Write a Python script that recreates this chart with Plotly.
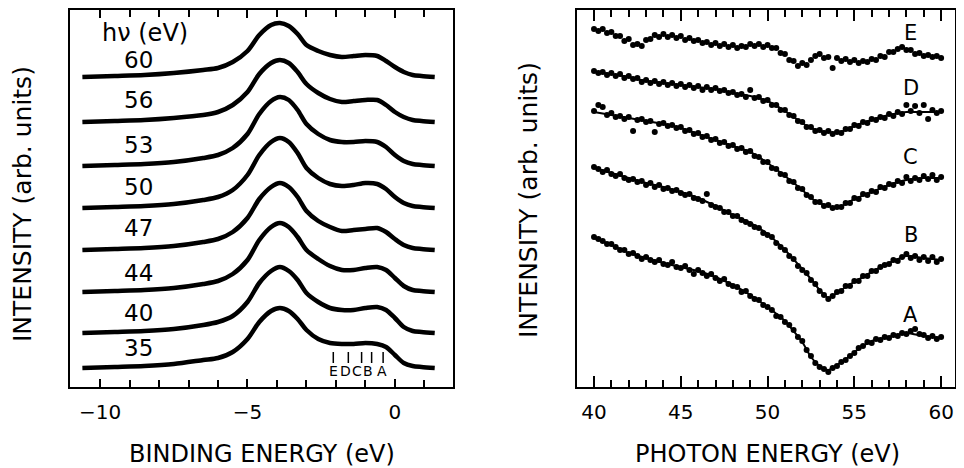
import plotly.graph_objects as go

# ---------------- Left panel: EDC spectra (binding energy) ----------------
be_grid = [-10.6, -9.5, -8.5, -7.5, -6.5, -6.0, -5.5, -5.0, -4.6, -4.2, -3.9, -3.6, -3.3,
           -3.0, -2.6, -2.2, -1.8, -1.4, -1.0, -0.6, -0.3, 0.0, 0.3, 0.6, 0.9, 1.35]

edc_60 = [310, 311, 312, 314, 317, 319, 325, 336, 352, 362, 364, 361, 353, 342, 336, 332, 330, 331, 332, 331, 326, 320, 315, 312, 311, 310]
edc_56 = [265, 266, 267, 269, 272, 275, 282, 295, 313, 324, 327, 324, 315, 303, 294, 288, 285, 286, 287, 287, 282, 275, 270, 267, 266, 265]
edc_53 = [221, 222, 223, 225, 229, 232, 239, 253, 273, 286, 290, 287, 277, 263, 253, 247, 245, 245, 246, 245, 240, 232, 226, 223, 222, 221]
edc_50 = [179, 180, 181, 183, 187, 190, 197, 212, 232, 245, 249, 245, 234, 219, 209, 203, 201, 202, 204, 203, 198, 190, 184, 181, 180, 179]
edc_47 = [137, 138, 139, 141, 145, 148, 155, 169, 188, 200, 204, 200, 190, 176, 166, 160, 156, 157, 158, 159, 155, 148, 142, 139, 138, 137]
edc_44 = [95, 96, 97, 99, 103, 106, 113, 127, 147, 160, 164, 160, 150, 137, 128, 121, 117, 117, 119, 120, 117, 109, 101, 97, 96, 95]
edc_40 = [54, 55, 56, 58, 62, 65, 71, 85, 104, 116, 120, 116, 107, 94, 85, 79, 77, 77, 79, 80, 77, 69, 60, 56, 55, 54]
edc_35 = [19, 20, 21, 23, 27, 29, 35, 48, 65, 76, 79, 76, 68, 57, 48, 44, 43, 43, 44, 43, 40, 32, 24, 21, 20, 19]

edc_curves = [edc_60, edc_56, edc_53, edc_50, edc_47, edc_44, edc_40, edc_35]
edc_labels = ["60", "56", "53", "50", "47", "44", "40", "35"]
edc_label_be = -8.68
edc_label_y = [327, 287, 242, 200, 159, 114, 74, 39]

feature_be = [-2.09, -1.58, -1.13, -0.79, -0.40]
feature_letters = ["E", "D", "C", "B", "A"]
feature_letter_be = [-2.07, -1.69, -1.29, -0.92, -0.44]
feature_tick_top = 35
feature_tick_bottom = 24
feature_letter_y = 16

# ---------------- Right panel: CIS spectra (photon energy) ----------------
fit_hv = [40, 41, 42, 43, 44, 45, 46, 47, 48, 49, 50, 51, 52, 52.5, 53, 53.5, 54, 54.5, 55, 56, 57, 58, 59, 60]
fit_A = [149, 142, 134, 129, 124, 120, 116, 110, 102, 92, 80, 66, 45, 30, 21, 17, 22, 28, 35, 46, 50, 54, 51, 49]
fit_B = [219, 214, 209, 204, 200, 195, 189, 181, 172, 164, 153, 137, 118, 108, 97, 89, 94, 100, 105, 115, 124, 131, 129, 127]
fit_C = [275, 272, 269, 266, 263, 259, 253, 247, 241, 235, 224, 211, 197, 189, 184, 181, 179, 183, 188, 195, 202, 207, 209, 209]
fit_D = [315, 313, 310, 306, 304, 302, 300, 298, 294, 291, 286, 276, 264, 259, 256, 255, 254, 257, 261, 267, 272, 275, 275, 275]

dot_hv = [40 + 0.25 * i for i in range(81)]
dots_A = [150, 148, 146, 143, 143, 140, 137, 137, 133, 134,
          131, 128, 130, 127, 125, 127, 123, 122, 125, 120,
          119, 121, 117, 113, 117, 114, 111, 113, 109, 106,
          108, 103, 101, 100, 95, 96, 91, 88, 87, 82,
          80, 77, 71, 70, 65, 62, 57, 50, 46, 37,
          31, 24, 20, 18, 15, 19, 21, 25, 27, 31,
          34, 39, 41, 45, 44, 48, 47, 50, 49, 52,
          51, 54, 53, 56, 58, 53, 52, 49, 51, 48,
          50]
dots_B = [220, 218, 215, 217, 213, 211, 213, 209, 207, 208,
          205, 206, 202, 204, 200, 202, 198, 199, 196, 197,
          194, 192, 193, 189, 188, 186, 193, 182, 180, 179,
          175, 175, 171, 171, 167, 165, 163, 160, 159, 154,
          152, 150, 144, 140, 137, 131, 128, 121, 117, 114,
          107, 103, 96, 92, 88, 91, 95, 96, 101, 101,
          106, 106, 111, 111, 116, 116, 120, 122, 123, 127,
          126, 130, 133, 129, 131, 127, 130, 126, 130, 125,
          128]
dots_C = [276, 282, 280, 272, 274, 270, 271, 268, 270, 256,
          267, 268, 265, 266, 255, 263, 264, 261, 262, 259,
          260, 256, 257, 253, 254, 250, 251, 247, 248, 244,
          245, 241, 242, 238, 239, 235, 236, 231, 230, 225,
          225, 219, 218, 213, 212, 206, 205, 199, 198, 192,
          190, 185, 185, 181, 182, 179, 180, 180, 184, 184,
          189, 188, 193, 192, 196, 195, 200, 199, 203, 202,
          206, 204, 210, 206, 209, 207, 211, 208, 212, 207,
          210]
dots_D = [316, 314, 315, 312, 314, 311, 313, 309, 311, 308,
          309, 305, 307, 304, 306, 303, 305, 302, 304, 301,
          303, 300, 302, 299, 301, 297, 300, 297, 299, 296,
          297, 294, 295, 292, 293, 290, 297, 289, 290, 286,
          287, 282, 282, 277, 277, 272, 271, 266, 265, 260,
          260, 256, 257, 254, 256, 253, 255, 254, 258, 258,
          262, 261, 265, 264, 268, 267, 270, 269, 273, 271,
          275, 273, 282, 276, 281, 274, 282, 268, 277, 274,
          276]
dots_E = [358, 356, 358, 354, 355, 351, 351, 346, 348, 342,
          343, 341, 347, 348, 352, 350, 353, 350, 352, 349,
          351, 347, 349, 346, 347, 344, 345, 342, 344, 341,
          343, 340, 342, 339, 341, 340, 343, 341, 343, 340,
          342, 339, 339, 334, 333, 327, 326, 321, 324, 322,
          327, 331, 333, 329, 330, 319, 329, 326, 328, 325,
          327, 324, 326, 325, 328, 327, 331, 330, 335, 335,
          338, 340, 337, 337, 333, 334, 331, 332, 330, 331,
          329]

cis_dots = [dots_A, dots_B, dots_C, dots_D, dots_E]
cis_fits = [fit_A, fit_B, fit_C, fit_D]
cis_letters = ["A", "B", "C", "D", "E"]
cis_label_hv = 58.25
cis_label_y = [72, 152, 230, 299, 354]

FONT = "DejaVu Sans"
W, H = 964, 468
OFF = 8  # page body margin offset of the figure


def px(xp):
    return (xp - OFF) / W


def py(yp):
    return 1 - (yp - OFF) / H


fig = go.Figure()

for ys in edc_curves:
    fig.add_trace(go.Scatter(x=be_grid, y=ys, mode="lines",
                             line=dict(color="black", width=4.5, shape="spline", smoothing=0.8),
                             xaxis="x", yaxis="y", hoverinfo="skip"))

tx, ty = [], []
for b in feature_be:
    tx += [b, b, None]
    ty += [feature_tick_top, feature_tick_bottom, None]
fig.add_trace(go.Scatter(x=tx, y=ty, mode="lines", line=dict(color="black", width=1.5),
                         xaxis="x", yaxis="y", hoverinfo="skip"))

for ys in cis_fits:
    fig.add_trace(go.Scatter(x=fit_hv, y=ys, mode="lines",
                             line=dict(color="black", width=2, shape="spline", smoothing=0.5),
                             xaxis="x2", yaxis="y2", hoverinfo="skip"))
for ys in cis_dots:
    fig.add_trace(go.Scatter(x=dot_hv, y=ys, mode="markers",
                             marker=dict(color="black", size=6),
                             xaxis="x2", yaxis="y2", hoverinfo="skip"))

# invisible traces so the top (mirror) axes are drawn
fig.add_trace(go.Scatter(x=[be_grid[0]], y=[0], mode="markers", marker=dict(opacity=0),
                         xaxis="x3", yaxis="y", hoverinfo="skip"))
fig.add_trace(go.Scatter(x=[dot_hv[0]], y=[0], mode="markers", marker=dict(opacity=0),
                         xaxis="x4", yaxis="y2", hoverinfo="skip"))

C = dict(xanchor="center", yanchor="middle", showarrow=False)
annotations = []
annotations.append(dict(x=-8.49, y=354, xref="x", yref="y", text="hν (eV)",
                        font=dict(family=FONT, size=24, color="black"), **C))
for lab, yv in zip(edc_labels, edc_label_y):
    annotations.append(dict(x=edc_label_be, y=yv, xref="x", yref="y", text=lab,
                            font=dict(family=FONT, size=23, color="black"), **C))
for lab, xv in zip(feature_letters, feature_letter_be):
    annotations.append(dict(x=xv, y=feature_letter_y, xref="x", yref="y", text=lab,
                            font=dict(family=FONT, size=14, color="black"), **C))
for lab, yv in zip(cis_letters, cis_label_y):
    annotations.append(dict(x=cis_label_hv, y=yv, xref="x2", yref="y2", text=lab,
                            font=dict(family=FONT, size=21, color="black"), **C))

annotations += [
    dict(x=px(262), y=py(454), xref="paper", yref="paper", text="BINDING ENERGY (eV)",
         font=dict(family=FONT, size=24, color="black"), **C),
    dict(x=px(767), y=py(454), xref="paper", yref="paper", text="PHOTON ENERGY (eV)",
         font=dict(family=FONT, size=24, color="black"), **C),
    dict(x=px(22), y=py(204), xref="paper", yref="paper", text="INTENSITY (arb. units)",
         textangle=-90, font=dict(family=FONT, size=25, color="black"), **C),
    dict(x=px(528), y=py(200), xref="paper", yref="paper", text="INTENSITY (arb. units)",
         textangle=-90, font=dict(family=FONT, size=25, color="black"), **C),
]

ydom = [py(387), py(10)]
L_DOM = [px(70), px(453)]
R_DOM = [px(577), px(955)]
L_RANGE = [-11.02, 1.97]
R_RANGE = [39.02, 60.8]
minor = dict(dtick=1, ticklen=7, ticks="inside", tickcolor="black", tickwidth=1.5)
common_x = dict(showline=True, linecolor="black", linewidth=2, mirror=True,
                ticks="inside", tickcolor="black", tickwidth=1.5, showgrid=False, zeroline=False,
                automargin=False)
common_y = dict(showline=True, linecolor="black", linewidth=2, mirror=True, ticks="",
                showticklabels=False, showgrid=False, zeroline=False, range=[0, 377],
                automargin=False)
tfont = dict(family=FONT, size=20, color="black")

fig.update_layout(
    width=W, height=H, margin=dict(l=0, r=0, t=0, b=0),
    paper_bgcolor="white", plot_bgcolor="white", showlegend=False,
    xaxis=dict(domain=L_DOM, range=L_RANGE, tickvals=[-10, -5, 0],
               ticktext=["−10", "−5", "0"], ticklen=8, minor=minor, tickfont=tfont,
               ticklabelstandoff=6, anchor="y", **common_x),
    xaxis3=dict(domain=L_DOM, range=L_RANGE, tickvals=[-10, -5, 0], ticklen=8, minor=minor,
                showticklabels=False, overlaying="x", side="top", anchor="y", **common_x),
    yaxis=dict(domain=ydom, anchor="x", **common_y),
    xaxis2=dict(domain=R_DOM, range=R_RANGE, tickvals=[40, 45, 50, 55, 60],
                ticklen=11, minor=minor, tickfont=tfont, ticklabelstandoff=6,
                anchor="y2", **common_x),
    xaxis4=dict(domain=R_DOM, range=R_RANGE, tickvals=[40, 45, 50, 55, 60], ticklen=11, minor=minor,
                showticklabels=False, overlaying="x2", side="top", anchor="y2", **common_x),
    yaxis2=dict(domain=ydom, anchor="x2", **common_y),
    annotations=annotations,
)

fig.write_html("out.html")
